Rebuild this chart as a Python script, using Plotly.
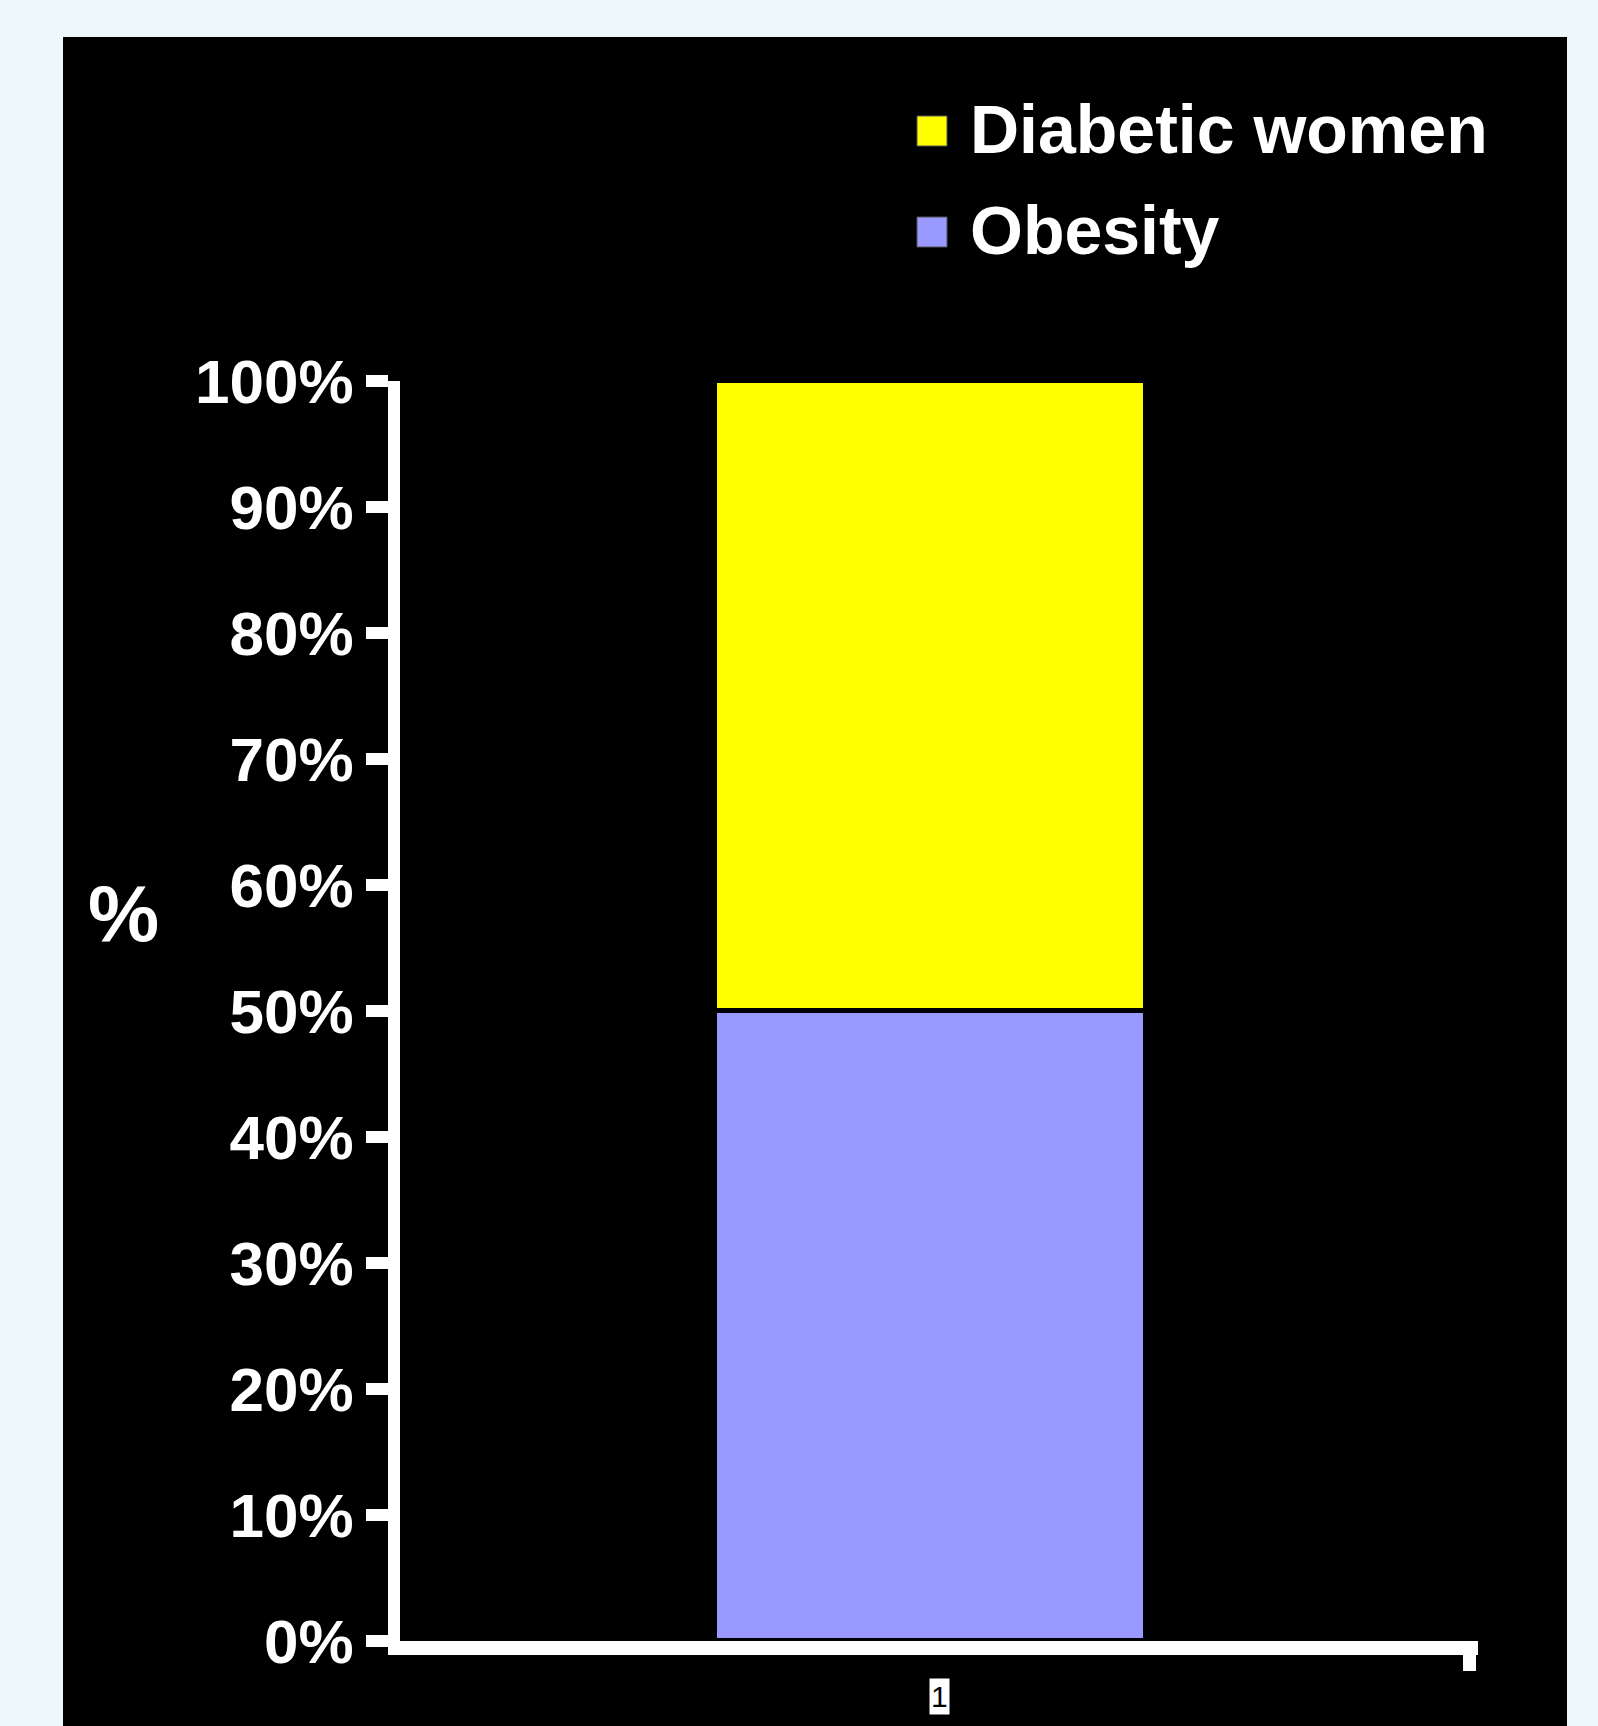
import plotly.graph_objects as go

categories = ["1"]
series_names = ["Obesity", "Diabetic women"]
obesity = [0.50]
diabetic_women = [0.50]
y_ticks = [0, 0.1, 0.2, 0.3, 0.4, 0.5, 0.6, 0.7, 0.8, 0.9, 1.0]
colors = {"Obesity": "#9999FF", "Diabetic women": "#FFFF00"}

FONT = "Liberation Sans, Arial, sans-serif"
W, H = 1598, 1726
L, R, T, B = 400, 120, 381, 85
pw, ph = W - L - R, H - T - B

def px_x(p):
    return (p - L) / pw

def px_y(p):
    return (H - B - p) / ph

fig = go.Figure()
for name, vals in [("Obesity", obesity), ("Diabetic women", diabetic_women)]:
    fig.add_trace(go.Bar(
        x=categories, y=vals, name=name, width=0.40,
        marker=dict(color=colors[name], line=dict(color="black", width=5)),
        showlegend=False,
    ))

shapes = [dict(type="rect", xref="paper", yref="paper", layer="below",
               x0=px_x(63), x1=px_x(1567), y0=px_y(1740), y1=px_y(37),
               fillcolor="black", line=dict(width=0))]
annotations = []
# legend (manual, to reproduce the large square swatches)
legend_items = [("Diabetic women", 131), ("Obesity", 232)]
for name, cy in legend_items:
    shapes.append(dict(type="rect", xref="paper", yref="paper",
                       x0=px_x(917), x1=px_x(947), y0=px_y(cy + 15), y1=px_y(cy - 15),
                       fillcolor=colors[name], line=dict(color="#555555", width=1)))
    annotations.append(dict(xref="paper", yref="paper", x=px_x(968), y=px_y(cy - 2),
                            xanchor="left", yanchor="middle", showarrow=False,
                            text=name, font=dict(family=FONT, size=68, color="white", weight="bold")))
# y axis title
annotations.append(dict(xref="paper", yref="paper", x=px_x(123), y=px_y(913),
                        xanchor="center", yanchor="middle", showarrow=False, text="%",
                        font=dict(family=FONT, size=80, color="white", weight="bold")))
# category label in white box
annotations.append(dict(xref="x", yref="paper", x=categories.index(categories[0]), y=px_y(1696),
                        xanchor="center", yanchor="middle", showarrow=False, text=categories[0],
                        bgcolor="white", borderpad=1, xshift=9,
                        font=dict(family=FONT, size=30, color="black")))

fig.update_layout(
    width=W, height=H,
    margin=dict(l=L, r=R, t=T, b=B, pad=0),
    paper_bgcolor="#eef7fa", plot_bgcolor="black",
    barmode="stack", bargap=0,
    shapes=shapes, annotations=annotations,
    showlegend=False,
)
fig.update_xaxes(type="category", range=[-0.492, len(categories) - 0.492],
                 showgrid=False, zeroline=False,
                 showline=True, linecolor="white", linewidth=14,
                 ticks="outside", tickson="boundaries", ticklen=16, tickwidth=13, tickcolor="white",
                 showticklabels=False)
fig.update_yaxes(range=[0, 1], showgrid=False, zeroline=False,
                 showline=True, linecolor="white", linewidth=12,
                 tickmode="array", tickvals=y_ticks, tickformat=".0%",
                 ticks="outside", ticklen=22, tickwidth=12, tickcolor="white",
                 tickfont=dict(family=FONT, size=62, color="white", weight="bold"))

fig.write_html("out.html")
